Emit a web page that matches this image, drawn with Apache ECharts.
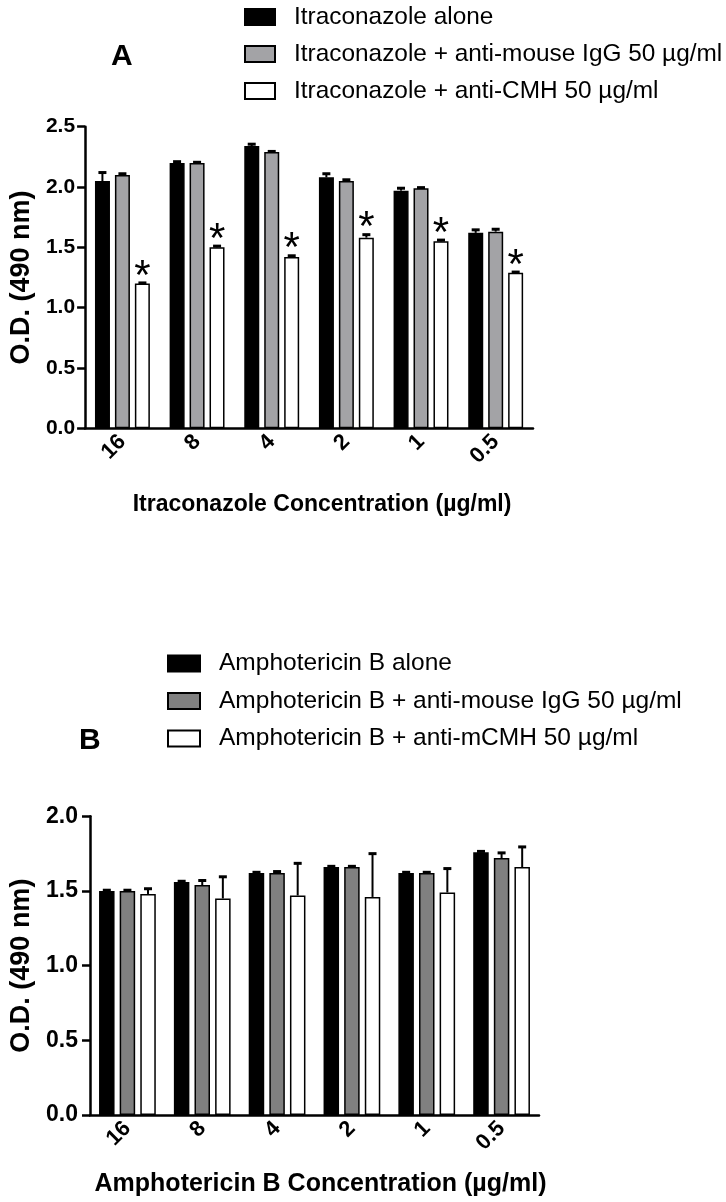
<!DOCTYPE html>
<html><head><meta charset="utf-8">
<script src="https://cdn.jsdelivr.net/npm/echarts@6/dist/echarts.min.js"></script>
<style>html,body{margin:0;padding:0;background:#fff}#c{width:726px;height:1202px}</style>
</head><body><div id="c"></div>
<script>
const categories = ['16', '8', '4', '2', '1', '0.5'];
const yTicksA = [0, 0.5, 1.0, 1.5, 2.0, 2.5];
const yTicksB = [0, 0.5, 1.0, 1.5, 2.0];

const namesA = ['Itraconazole alone', 'Itraconazole + anti-mouse IgG 50 µg/ml', 'Itraconazole + anti-CMH 50 µg/ml'];
const itraAlone = [2.05, 2.20, 2.34, 2.08, 1.97, 1.62];
const itraAloneErr = [0.07, 0.01, 0.015, 0.03, 0.02, 0.025];
const itraIgG = [2.10, 2.20, 2.29, 2.05, 1.99, 1.63];
const itraIgGErr = [0.01, 0.005, 0.005, 0.01, 0.005, 0.02];
const itraCMH = [1.20, 1.50, 1.42, 1.58, 1.55, 1.29];
const itraCMHErr = [0.005, 0.01, 0.01, 0.025, 0.01, 0.005];
const itraCMHSig = ['*', '*', '*', '*', '*', '*'];

const namesB = ['Amphotericin B alone', 'Amphotericin B + anti-mouse IgG 50 µg/ml', 'Amphotericin B + anti-mCMH 50 µg/ml'];
const ampAlone = [1.50, 1.56, 1.62, 1.66, 1.62, 1.76];
const ampAloneErr = [0.005, 0.005, 0.005, 0.005, 0.005, 0.005];
const ampIgG = [1.50, 1.54, 1.62, 1.66, 1.62, 1.72];
const ampIgGErr = [0.005, 0.03, 0.01, 0.005, 0.005, 0.035];
const ampCMH = [1.48, 1.45, 1.47, 1.46, 1.49, 1.66];
const ampCMHErr = [0.035, 0.145, 0.215, 0.29, 0.16, 0.135];

const FONT = 'Liberation Sans, Arial, Helvetica, sans-serif';
const chart = echarts.init(document.getElementById('c'), null, {renderer: 'canvas'});

function errSeries(gi, vals, errs, offset, sig) {
  return {
    type: 'custom', xAxisIndex: gi, yAxisIndex: gi, z: 5, silent: true,
    data: vals.map((v, i) => [i, v, errs[i], sig ? sig[i] : '']),
    renderItem: function (params, api) {
      const i = api.value(0), v = api.value(1), e = api.value(2);
      const p0 = api.coord([i, v]);
      const p1 = api.coord([i, v + e]);
      const x = p0[0] + offset;
      const ch = [
        {type: 'line', shape: {x1: x, y1: p0[1], x2: x, y2: p1[1]}, style: {stroke: '#000', lineWidth: 2}},
        {type: 'line', shape: {x1: x - 4, y1: p1[1], x2: x + 4, y2: p1[1]}, style: {stroke: '#000', lineWidth: 3}}
      ];
      const s = sig ? sig[params.dataIndex] : '';
      if (s) {
        ch.push({type: 'text', style: {text: s, x: x, y: p1[1] - 6, align: 'center', verticalAlign: 'middle',
          font: '42px ' + FONT, fill: '#000'}});
      }
      return {type: 'group', children: ch};
    }
  };
}

function bar(gi, name, vals, color, bw) {
  return {
    type: 'bar', name: name, xAxisIndex: gi, yAxisIndex: gi, data: vals,
    barWidth: bw, barGap: '33%',
    itemStyle: {color: color, borderColor: '#000', borderWidth: 1.5}
  };
}

function xAxis(gi, name, nameGap, fs, nfs, padL) {
  return {
    type: 'category', gridIndex: gi, data: categories,
    axisLine: {lineStyle: {color: '#000', width: 2.5}},
    axisTick: {alignWithLabel: true, length: 8, lineStyle: {color: '#000', width: 2.5}},
    axisLabel: {rotate: 45, color: '#000', fontWeight: 'bold', fontSize: fs, fontFamily: FONT, margin: 10},
    name: name, nameLocation: 'middle', nameGap: nameGap,
    nameTextStyle: {color: '#000', fontWeight: 'bold', fontSize: nfs, fontFamily: FONT, padding: [0, 0, 0, padL]}
  };
}

function yAxis(gi, ticks, nameGap, fs, nfs, margin) {
  return {
    type: 'value', gridIndex: gi, min: ticks[0], max: ticks[ticks.length - 1], interval: 0.5,
    axisLine: {show: true, lineStyle: {color: '#000', width: 2.5}},
    axisTick: {show: true, length: 8, lineStyle: {color: '#000', width: 2.5}},
    splitLine: {show: false},
    axisLabel: {color: '#000', fontWeight: 'bold', fontSize: fs, fontFamily: FONT, margin: margin,
      formatter: v => v.toFixed(1)},
    name: 'O.D. (490 nm)', nameLocation: 'middle', nameGap: nameGap, nameRotate: 90,
    nameTextStyle: {color: '#000', fontWeight: 'bold', fontSize: nfs, fontFamily: FONT}
  };
}

function legend(names, left, top, iw, gap, fs) {
  return {data: names, orient: 'vertical', left: left, top: top, padding: 0, itemWidth: iw, itemHeight: 16, itemGap: gap,
    icon: 'rect', selectedMode: false,
    textStyle: {fontSize: fs, color: '#000', fontFamily: FONT, padding: [0, 0, 0, 14]}};
}

const option = {
  animation: false,
  backgroundColor: '#fff',
  title: [
    {text: 'A', left: 106, top: 37, textStyle: {fontSize: 30, fontWeight: 'bold', color: '#000', fontFamily: FONT}},
    {text: 'B', left: 74, top: 721, textStyle: {fontSize: 30, fontWeight: 'bold', color: '#000', fontFamily: FONT}}
  ],
  legend: [
    legend(namesA, 244, 5, 30, 13, 24.4),
    legend(namesB, 167, 651, 32, 12.5, 24.5)
  ],
  grid: [
    {left: 81, right: 193, top: 126.7, bottom: 773.7},
    {left: 90, right: 187, top: 816.3, bottom: 87}
  ],
  xAxis: [
    xAxis(0, 'Itraconazole Concentration (µg/ml)', 65, 22, 23, 26),
    xAxis(1, 'Amphotericin B Concentration (µg/ml)', 57, 22, 25, 12)
  ],
  yAxis: [
    yAxis(0, yTicksA, 46, 21, 27, 10),
    yAxis(1, yTicksB, 52, 23, 27, 12)
  ],
  series: [
    bar(0, namesA[0], itraAlone, '#000', 15),
    bar(0, namesA[1], itraIgG, '#a3a3a6', 15),
    bar(0, namesA[2], itraCMH, '#fff', 15),
    errSeries(0, itraAlone, itraAloneErr, -20, null),
    errSeries(0, itraIgG, itraIgGErr, 0, null),
    errSeries(0, itraCMH, itraCMHErr, 20, itraCMHSig),
    bar(1, namesB[0], ampAlone, '#000', 15.5),
    bar(1, namesB[1], ampIgG, '#808080', 15.5),
    bar(1, namesB[2], ampCMH, '#fff', 15.5),
    errSeries(1, ampAlone, ampAloneErr, -20.6, null),
    errSeries(1, ampIgG, ampIgGErr, 0, null),
    errSeries(1, ampCMH, ampCMHErr, 20.6, null)
  ]
};
chart.setOption(option);
</script>
</body></html>
